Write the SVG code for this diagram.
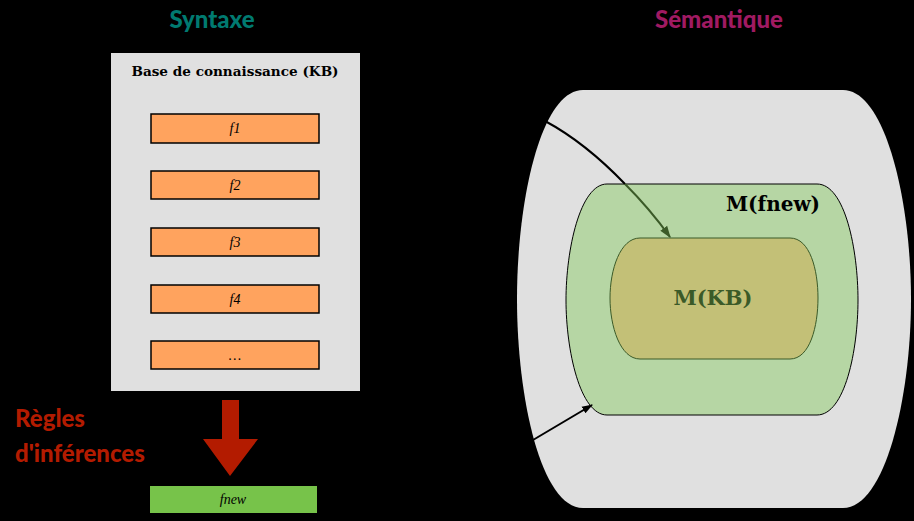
<svg xmlns="http://www.w3.org/2000/svg" width="914" height="521" viewBox="0 0 914 521">
<defs>
<style>
.title{font-family:Lato,"Open Sans",sans-serif;font-weight:900;font-size:24px;text-anchor:middle}
.rule{font-family:Lato,"Open Sans",sans-serif;font-weight:900;font-size:24px;fill:#b31b00}
.fact{fill:#ffa35e;stroke:#000;stroke-width:1.5}
.ft{font-family:"Liberation Serif",serif;font-style:italic;font-size:14px;text-anchor:middle;fill:#000}
.serifb{font-family:"DejaVu Serif","Liberation Serif",serif;font-weight:bold;text-anchor:middle}
.conn{fill:none;stroke:#000;stroke-width:2}
</style>
<marker id="ah" viewBox="0 0 10 10" refX="9" refY="5" markerWidth="11" markerHeight="11" orient="auto" markerUnits="userSpaceOnUse">
<path d="M0,1.5 L10,5 L0,8.5 z" fill="#000"/>
</marker>
<marker id="ahg" viewBox="0 0 10 10" refX="9" refY="5" markerWidth="12" markerHeight="12" orient="auto" markerUnits="userSpaceOnUse">
<path d="M0,1.5 L10,5 L0,8.5 z" fill="#3b5a28"/>
</marker>
</defs>
<rect x="0" y="0" width="914" height="521" fill="#000"/>

<text class="title" x="212" y="28" fill="#007a70">Syntaxe</text>
<text class="title" x="719" y="28" fill="#a01a62">Sémantique</text>

<g id="kb">
<rect x="111" y="53" width="249" height="338" fill="#e0e0e0"/>
<text class="serifb" x="235" y="76" font-size="13.6" fill="#000">Base de connaissance (KB)</text>
</g>
<g id="f1"><rect class="fact" x="151" y="114" width="168" height="29"/><text class="ft" x="235" y="133">f1</text></g>
<g id="f2"><rect class="fact" x="151" y="171" width="168" height="28"/><text class="ft" x="235" y="190">f2</text></g>
<g id="f3"><rect class="fact" x="151" y="228" width="168" height="28"/><text class="ft" x="235" y="247">f3</text></g>
<g id="f4"><rect class="fact" x="151" y="285" width="168" height="28"/><text class="ft" x="235" y="304">f4</text></g>
<g id="fdots"><rect class="fact" x="151" y="341" width="168" height="28"/><text class="ft" x="235" y="360">…</text></g>

<g id="rules">
<text class="rule" x="15" y="427">Règles</text>
<text class="rule" x="15" y="462">d'inférences</text>
<path d="M222,400 H239 V439 H258 L230,476 L203,439 H222 Z" fill="#b31b00"/>
</g>

<g id="fnew">
<rect x="150" y="486" width="167" height="27" fill="#77c34a"/>
<text class="ft" x="233" y="504">fnew</text>
</g>

<g id="world">
<path d="M583,90 H843 C885,90 911,200 911,299 C911,398 885,508 843,508 H583 C541,508 517,398 517,299 C517,200 541,90 583,90 Z" fill="#e0e0e0"/>
</g>

<g id="mfnew">
<path d="M607,184 H817 C845,184 858,250 858,300 C858,350 845,415 817,415 H607 C580,415 566,350 566,300 C566,250 580,184 607,184 Z" fill="#b6d6a4" stroke="#000" stroke-width="1"/>
<text class="serifb" x="773" y="211" font-size="20" fill="#000">M(fnew)</text>
</g>

<g id="mkb">
<path d="M640,238 H790 C810,238 818,270 818,298 C818,326 810,359 790,359 H640 C620,359 610,326 610,298 C610,270 620,238 640,238 Z" fill="#c3c077" stroke="#3b5a28" stroke-width="1"/>
<text class="serifb" x="713" y="305" font-size="21" fill="#3b5a28">M(KB)</text>
</g>

<g id="connectors">
<path class="conn" d="M545,121 C573,136 600,158 625,184"/>
<path d="M625,184 C641,200 655,216 670,237" fill="none" stroke="#3b5a28" stroke-width="2" marker-end="url(#ahg)"/>
<path class="conn" d="M533,440 L592,405" marker-end="url(#ah)"/>
</g>
</svg>
